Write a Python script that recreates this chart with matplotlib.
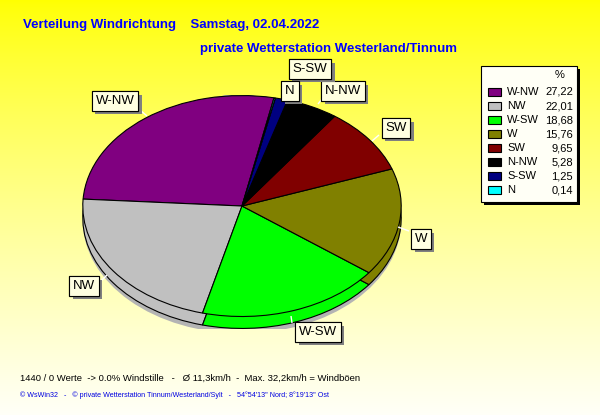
import numpy as np
import matplotlib
matplotlib.use("Agg")
import matplotlib.pyplot as plt
from matplotlib.patches import Rectangle, Ellipse
import matplotlib.patheffects as pe

# ---- data ----
directions = ["W-NW", "NW", "W-SW", "W", "SW", "N-NW", "S-SW", "N"]
percent = [27.22, 22.01, 18.68, 15.76, 9.65, 5.28, 1.25, 0.14]
percent_labels = ["27,22", "22,01", "18,68", "15,76", "9,65", "5,28", "1,25", "0,14"]
colors = ["#800080", "#C0C0C0", "#00FF00", "#808000", "#800000", "#000000", "#000080", "#00FFFF"]

title1 = "Verteilung Windrichtung    Samstag, 02.04.2022"
title2 = "private Wetterstation Westerland/Tinnum"
footer1 = "1440 / 0 Werte  -> 0.0% Windstille   -   Ø 11,3km/h  -  Max. 32,2km/h = Windböen"
footer2 = "© WsWin32   -   © private Wetterstation Tinnum/Westerland/Sylt   -   54°54'13\" Nord; 8°19'13\" Ost"

# label box centres (pixels)
label_pos = {"W-NW": (115, 101), "NW": (84, 286), "W-SW": (318, 332), "W": (421, 239),
             "SW": (396, 128), "N-NW": (343, 91), "S-SW": (310, 69), "N": (290, 91)}
# short white leader lines (pixels)
leaders = [((140, 110), (147, 116)), ((101, 281), (107, 275)), ((409, 231), (398, 227)),
           ((292, 323), (291, 316)), ((379, 135), (372, 141)), ((322, 99), (318, 104))]

W, H = 600, 415
fig = plt.figure(figsize=(6, 4.15), dpi=100)
plt.rcParams['font.family'] = ['Liberation Sans', 'DejaVu Sans']

# background gradient
bg = fig.add_axes([0, 0, 1, 1], zorder=0)
grad = np.linspace(0, 1, 256)
top = np.array([1.0, 1.0, 0.0])
bot = np.array([1.0, 1.0, 0.97])
img = top[None, :] * (1 - grad[:, None] ** 0.8) + bot[None, :] * (grad[:, None] ** 0.8)
bg.imshow(img[:, None, :], aspect='auto', extent=[0, 1, 0, 1])
bg.axis('off')

# pie axes
cx, cy, rx, ry, depth = 242, 206, 160, 111, 12
d = depth / ry
axp = fig.add_axes([(cx - rx) / W, (H - cy - ry - depth) / H, 2 * rx / W, (2 * ry + depth) / H], zorder=1)
axp.patch.set_alpha(0)
axp.add_patch(Ellipse((0, -d - 3 / ry), 2.0, 2.0 + 4 / ry, fc="#B4B4B4", ec="none", zorder=0))
axp.add_patch(Ellipse((-0.02, 0.03), 1.0, 1.98, fc="#B4B4B4", ec="none", zorder=0))
axp.pie(percent, colors=colors, startangle=78.4, counterclock=True, center=(0, -d),
        wedgeprops=dict(edgecolor="black", linewidth=0.8), frame=False)
wedges, _ = axp.pie(percent, colors=colors, startangle=78.4, counterclock=True, center=(0, 0),
                    wedgeprops=dict(edgecolor="black", linewidth=0.8), frame=False)
axp.set_aspect('auto')
axp.set_xlim(-1.005, 1.005)
axp.set_ylim(-1 - d - 0.005, 1.005)
axp.axis('off')

# overlay axes in pixel coordinates
ov = fig.add_axes([0, 0, 1, 1], zorder=2)
ov.set_xlim(0, W)
ov.set_ylim(H, 0)
ov.patch.set_alpha(0)
ov.axis('off')

blue = "#0000FF"
ov.text(23, 25, title1, color=blue, fontsize=9.5, fontweight='bold', va='center', ha='left')
ov.text(200, 49, title2, color=blue, fontsize=9.5, fontweight='bold', va='center', ha='left')
ov.text(20, 378, footer1, color='black', fontsize=6.8, va='center', ha='left')
ov.text(20, 395, footer2, color='#0000E0', fontsize=5.1, va='center', ha='left')

for (x0, y0), (x1, y1) in leaders:
    ov.plot([x0, x1], [y0, y1], color='white', lw=1, solid_capstyle='butt')

# pie labels
for name in directions:
    x, y = label_pos[name]
    t = ov.text(x, y, name, fontsize=9.5, ha='center', va='center', color='black',
                bbox=dict(boxstyle='square,pad=0.28', fc='#FFFFE1', ec='black', lw=0.8))
    t.get_bbox_patch().set_path_effects([
        pe.withSimplePatchShadow(offset=(2.5, -2.5), shadow_rgbFace='#808080', alpha=1.0), pe.Normal()])

# legend
ov.add_patch(Rectangle((484, 69), 96, 136, fc='black', ec='none'))
ov.add_patch(Rectangle((481, 66), 96, 136, fc='#FFFFF6', ec='black', lw=0.8))
ov.text(560, 75, "%", fontsize=8, ha='center', va='center')
for i, (name, val, col) in enumerate(zip(directions, percent_labels, colors)):
    y = 92 + 14 * i
    ov.add_patch(Rectangle((488, y - 4), 13, 8, fc=col, ec='black', lw=0.8))
    ov.text(507, y, name, fontsize=8, ha='left', va='center')
    ov.text(573, y, val, fontsize=8, ha='right', va='center')

fig.savefig("out.png", dpi=100)
